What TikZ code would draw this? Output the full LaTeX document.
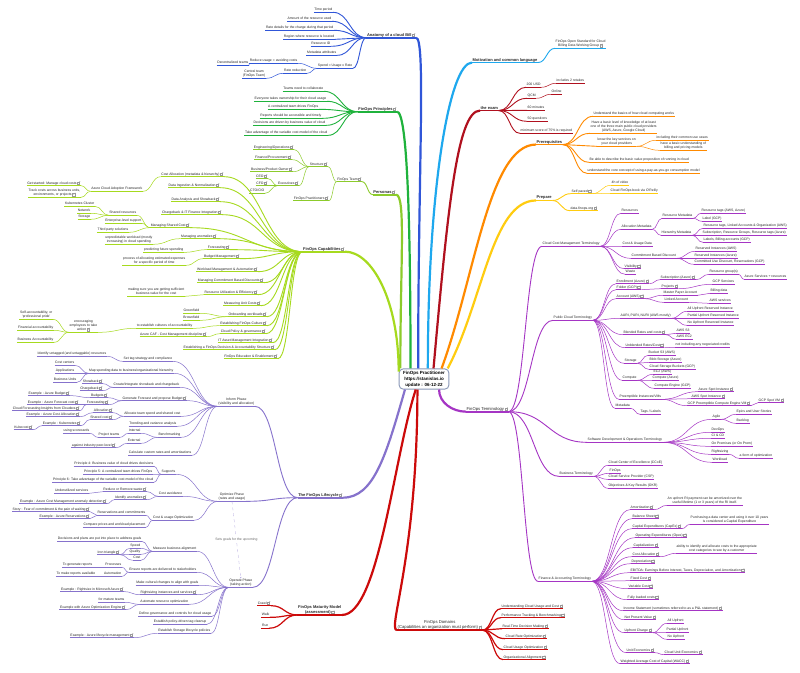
\documentclass[tikz,border=0pt]{standalone}
\usepackage{fontspec}
\setmainfont{Liberation Sans}
\usetikzlibrary{calc,arrows.meta}

\definecolor{anatC}{HTML}{3056D8}
\definecolor{prinC}{HTML}{1FB23C}
\definecolor{persC}{HTML}{8CCB2B}
\definecolor{capaC}{HTML}{A6DA1E}
\definecolor{lifeC}{HTML}{8672CC}
\definecolor{redC}{HTML}{CC0A0A}
\definecolor{examC}{HTML}{B0101E}
\definecolor{motiC}{HTML}{1EA8EE}
\definecolor{prereqC}{HTML}{FF8A00}
\definecolor{prepC}{HTML}{FFCC10}
\definecolor{termC}{HTML}{A535C4}
\definecolor{hubC}{HTML}{8A98B8}
\colorlet{brc}{black}
\def\trx{0}

% small external-link glyph
\newcommand{\lk}{\,\tikz[baseline=0pt,x=1pt,y=1pt]{\draw[line width=0.25pt,draw=gray!80] (0,0) rectangle (2.3,2.3); \draw[line width=0.25pt,draw=gray!80] (1.1,1.2) -- (2.9,3);}}

\begin{document}
\begin{tikzpicture}[
  x=1pt, y=-1pt,
  base/.style={font=\fontsize{3.4}{4}\selectfont, inner sep=0.5pt, align=center, text depth=0.8pt, text=black!85},
  uline/.style={append after command={(\tikzlastnode.south west) edge[draw=brc, line width=#1] (\tikzlastnode.south east)}},
  tl/.style={base, anchor=east, uline=#1},
  tl/.default=0.5pt,
  tr/.style={base, anchor=west, uline=#1},
  tr/.default=0.5pt,
  ttl/.style={font=\fontsize{4}{4.8}\selectfont\bfseries},
  ttlr/.style={font=\fontsize{4.2}{5}\selectfont},
  hub/.style={draw=hubC, line width=0.9pt, rounded corners=4pt, fill=white, align=center,
    font=\fontsize{4.5}{6}\selectfont\bfseries, inner xsep=4pt, inner ysep=2pt},
  mm/.style={to path={let \p1=(\tikztostart), \p2=(\tikztotarget) in
    .. controls ({0.5*(\x1+\x2)},\y1) and ({0.5*(\x1+\x2)},\y2) .. (\tikztotarget)}},
  link/.style={draw=brc, line width=#1, mm},
  link/.default=0.5pt,
  tx/.code={\def\trx{#1}},
  trunkL/.style={draw=brc, line width=2.2pt, to path={let \p1=(\tikztostart), \p2=(\tikztotarget) in
    .. controls ({\x1+\trx*(\x2-\x1)},{\y1+#1*(\y2-\y1)}) and ({\x2+max(10,0.5*abs(\x1-\x2))},\y2) .. (\tikztotarget)}},
  trunkL/.default=0.6,
  trunkR/.style={draw=brc, line width=2.2pt, to path={let \p1=(\tikztostart), \p2=(\tikztotarget) in
    .. controls ({\x1+\trx*(\x2-\x1)},{\y1+#1*(\y2-\y1)}) and ({\x2-max(10,0.5*abs(\x1-\x2))},\y2) .. (\tikztotarget)}},
  trunkR/.default=0.6,
  goal/.style={draw=lifeC!60, line width=0.3pt, dashed, -{Stealth[length=2pt,width=1.6pt]}},
]
\useasboundingbox (0,0) rectangle (800,672);
\fill[white] (0,0) rectangle (800,672);

\node[hub] (ctr) at (424,379) {FinOps Practitioner\\https://stanislas.io\\update : 06-12-22};

% ---------------- anatomy of a cloud bill
\begin{scope}
\colorlet{brc}{anatC}
\node[tl=1.8pt, ttl] (anat) at (416,35) {Anatomy of a cloud Bill\lk};
\node[tl=0.9pt] (anTime) at (333,10) {Time period};
\node[tl=0.9pt] (anAmount) at (332,19) {Amount of the resource used};
\node[tl=0.9pt] (anRate) at (334,28) {Rate details for the charge during that period};
\node[tl=0.9pt] (anRegion) at (335,37) {Region where resource is located};
\node[tl=0.9pt] (anId) at (331,44) {Resource ID};
\node[tl=0.9pt] (anMeta) at (337,53) {Metadata attributes};
\node[tl=0.9pt] (anSpend) at (353,66) {Spend = Usage x Rate};
\node[tl] (anReduce) at (298,61) {Reduce usage = avoiding costs};
\node[tl] (anRateRed) at (307,71) {Rate reduction};
\node[tl] (anDecen) at (249,63) {Decentralized teams};
\node[tl] (anCentral) at (266,74) {Central team\\(FinOps Team)};
\draw[trunkL] (ctr.119) to (anat.south east);
\draw[link=0.9pt] (anat.south west) edge (anTime.south east) edge (anAmount.south east)
  edge (anRate.south east) edge (anRegion.south east) edge (anId.south east)
  edge (anMeta.south east) edge (anSpend.south east);
\draw[link] (anSpend.south west) edge (anReduce.south east) edge (anRateRed.south east);
\draw[link] (anReduce.south west) edge (anDecen.south east);
\draw[link] (anRateRed.south west) edge (anCentral.south east);
\end{scope}

% ---------------- principles
\begin{scope}
\colorlet{brc}{prinC}
\node[tl=1.8pt, ttl] (prin) at (397,109) {FinOps Principles\lk};
\node[tl=0.9pt] (prTeams) at (324,89) {Teams need to collaborate};
\node[tl=0.9pt] (prOwn) at (327,99) {Everyone takes ownership for their cloud usage};
\node[tl=0.9pt] (prCentral) at (319,107) {A centralized team drives FinOps};
\node[tl=0.9pt] (prReports) at (322,116) {Reports should be accessible and timely};
\node[tl=0.9pt] (prDecide) at (326,123) {Decisions are driven by business value of cloud};
\node[tl=0.9pt] (prVar) at (328,133) {Take advantage of the variable cost model of the cloud};
\draw[trunkL] (ctr.142) to (prin.south east);
\draw[link=0.9pt] (prin.south west) edge (prTeams.south east) edge (prOwn.south east)
  edge (prCentral.south east) edge (prReports.south east) edge (prDecide.south east)
  edge (prVar.south east);
\end{scope}

% ---------------- personas
\begin{scope}
\colorlet{brc}{persC}
\node[tl=1.8pt, ttl] (pers) at (396,192) {Personas\lk};
\node[tl=0.9pt] (peTeam) at (362,179) {FinOps Team\lk};
\node[tl] (peStruct) at (328,164) {Structure\lk};
\node[tl] (pePract) at (329,198) {FinOps Practitioners\lk};
\node[tl] (peEng) at (294,147) {Engineering/Operations\lk};
\node[tl] (peFin) at (292,157) {Finance/Procurement\lk};
\node[tl] (peBiz) at (293,169) {Business/Product Owner\lk};
\node[tl] (peExec) at (299,183) {Executives\lk};
\node[tl] (peCeo) at (268,176) {CEO\lk};
\node[tl] (peCfo) at (268,183) {CFO\lk};
\node[tl] (peCto) at (265,191) {CTO/CIO};
\draw[trunkL] (ctr.156) to (pers.south east);
\draw[link=0.9pt] (pers.south west) edge (peTeam.south east);
\draw[link] (peTeam.south west) edge (peStruct.south east) edge (pePract.south east);
\draw[link] (peStruct.south west) edge (peEng.south east) edge (peFin.south east)
  edge (peBiz.south east) edge (peExec.south east);
\draw[link] (peExec.south west) edge (peCeo.south east) edge (peCfo.south east) edge (peCto.south east);
\end{scope}

% ---------------- capabilities
\begin{scope}
\colorlet{brc}{capaC}
\node[tl=1.8pt, ttl] (capa) at (345,249) {FinOps Capabilities\lk};
\node[tl=0.9pt] (caAlloc) at (224,174) {Cost Allocation (metadata \& hierarchy)\lk};
\node[tl=0.9pt] (caIngest) at (220,185) {Data Ingestion \& Normalization\lk};
\node[tl=0.9pt] (caAnalysis) at (220,199) {Data Analysis and Showback\lk};
\node[tl=0.9pt] (caCharge) at (222,212) {Chargeback \& IT Finance Integration\lk};
\node[tl=0.9pt] (caShared) at (190,225) {Managing Shared Cost\lk};
\node[tl=0.9pt] (caAnom) at (217,236) {Managing anomalies\lk};
\node[tl=0.9pt] (caFore) at (230,247) {Forecasting\lk};
\node[tl=0.9pt] (caBudget) at (240,256) {Budget Management\lk};
\node[tl=0.9pt] (caWork) at (258,269) {Workload Management \& Automation\lk};
\node[tl=0.9pt] (caCommit) at (264,280) {Managing Commitment Based Discounts\lk};
\node[tl=0.9pt] (caUtil) at (258,292) {Resource Utilization \& Efficiency\lk};
\node[tl=0.9pt] (caUnit) at (261,303) {Measuring Unit Costs\lk};
\node[tl=0.9pt] (caOnboard) at (267,314) {Onboarding workloads\lk};
\node[tl=0.9pt] (caCulture) at (267,323) {Establishing FinOps Culture\lk};
\node[tl=0.9pt] (caPolicy) at (266,331) {Cloud Policy \& governance\lk};
\node[tl=0.9pt] (caItam) at (273,340) {IT Asset Management Integration\lk};
\node[tl=0.9pt] (caDecision) at (275,347) {Establishing a FinOps Decision \& Accountability Structure\lk};
\node[tl=0.9pt] (caEdu) at (278,356) {FinOps Education \& Enablement\lk};
\node[tl] (caCaf) at (143,189) {Azure Cloud Adoption Framework};
\node[tl] (caGet) at (81,183) {Get started: Manage cloud costs\lk};
\node[tl] (caTrack) at (81,193) {Track costs across business units,\\environments, or projects\lk};
\node[tl] (caSharedRes) at (137,213) {Shared resources};
\node[tl] (caK8s) at (95,204) {Kubernetes Cluster};
\node[tl] (caNet) at (91,211) {Network};
\node[tl] (caSto) at (91,217) {Storage};
\node[tl] (caEnt) at (142,221) {Enterprise-level support};
\node[tl] (caThird) at (129,230) {Third party solutions};
\node[tl] (caUnpred) at (153,240) {unpredictable workload (mostly\\increasing) in cloud spending};
\node[tl] (caPredict) at (184,250) {predicting future spending};
\node[tl] (caProcess) at (186,261) {process of allocating estimated expenses\\for a specific period of time};
\node[tl] (caValue) at (185,292) {making sure you are getting sufficient\\business value for the cost};
\node[tl] (caGreen) at (200,311) {Greenfield};
\node[tl] (caBrown) at (200,318) {Brownfield};
\node[tl] (caAccount) at (193,326) {to establish cultures of accountability};
\node[tl] (caEncour) at (98,326) {encouraging\\employees to take\\action\lk};
\node[tl] (caSelf) at (53,315) {Self-accountability, or\\`professional pride'};
\node[tl] (caFinAcc) at (54,328) {Financial accountability};
\node[tl] (caBizAcc) at (54,340) {Business Accountability};
\node[tl] (caCafCm) at (207,334) {Azure CAF - Cost Management discipline\lk};
\draw[trunkL] (ctr.164) to (capa.south east);
\draw[link=0.9pt] (capa.south west) edge (caAlloc.south east) edge (caIngest.south east)
  edge (caAnalysis.south east) edge (caCharge.south east) edge (caShared.south east)
  edge (caAnom.south east) edge (caFore.south east) edge (caBudget.south east)
  edge (caWork.south east) edge (caCommit.south east) edge (caUtil.south east)
  edge (caUnit.south east) edge (caOnboard.south east) edge (caCulture.south east)
  edge (caPolicy.south east) edge (caItam.south east) edge (caDecision.south east)
  edge (caEdu.south east);
\draw[link] (caAlloc.south west) edge (caCaf.south east);
\draw[link] (caCaf.south west) edge (caGet.south east) edge (caTrack.south east);
\draw[link] (caShared.south west) edge (caSharedRes.south east) edge (caEnt.south east) edge (caThird.south east);
\draw[link] (caSharedRes.south west) edge (caK8s.south east) edge (caNet.south east) edge (caSto.south east);
\draw[link] (caAnom.south west) edge (caUnpred.south east);
\draw[link] (caFore.south west) edge (caPredict.south east);
\draw[link] (caBudget.south west) edge (caProcess.south east);
\draw[link] (caUtil.south west) edge (caValue.south east);
\draw[link] (caOnboard.south west) edge (caGreen.south east) edge (caBrown.south east);
\draw[link] (caCulture.south west) edge (caAccount.south east);
\draw[link] (caAccount.south west) edge (caEncour.south east);
\draw[link] (caEncour.south west) edge (caSelf.south east) edge (caFinAcc.south east) edge (caBizAcc.south east);
\draw[link] (caPolicy.south west) edge (caCafCm.south east);
\end{scope}

% ---------------- lifecycle
\begin{scope}
\colorlet{brc}{lifeC}
\node[tl=1.8pt, ttl] (life) at (343,495) {The FinOps Lifecycle\lk};
\node[tl=0.9pt] (inform) at (255,402) {Inform Phase\\(visibility and allocation)};
\node[tl=0.9pt] (optim) at (246,497) {Optimize Phase\\(rates and usage)};
\node[tl=0.9pt] (operate) at (253,583) {Operate Phase\\(taking action)};
\draw[trunkL, tx=0.3] (ctr.209) to (life.south east);
\draw[link=0.9pt] (life.south west) edge (inform.south east) edge (optim.south east) edge (operate.south east);
\draw[goal] (optim.south) -- (operate.north) node[midway, fill=white, base, text=black!60, inner sep=1pt] {Sets goals for the upcoming};
% inform
\node[tl] (inTag) at (173,359) {Set tag strategy and compliance};
\node[tl] (inUntag) at (107,354) {Identify untagged (and untaggable) resources};
\node[tl] (inMap) at (174,371) {Map spending data to business/organizational hierarchy};
\node[tl] (inCc) at (75,363) {Cost centers};
\node[tl] (inApp) at (75,371) {Applications};
\node[tl] (inBu) at (77,380) {Business Units};
\node[tl] (inShow) at (180,385) {Create/integrate showback and chargeback};
\node[tl] (inShowback) at (103,381) {Showback\lk};
\node[tl] (inChargeback) at (103,388) {Chargeback\lk};
\node[tl] (inFore) at (187,398) {Generate Forecast and propose Budget\lk};
\node[tl] (inBudgets) at (108,395) {Budgets\lk};
\node[tl] (inAzBudget) at (70,393) {Example : Azure Budget\lk};
\node[tl] (inForecast) at (109,402) {Forecasting\lk};
\node[tl] (inAzFore) at (79,402) {Example : Azure Forecast cost\lk};
\node[tl] (inCloudera) at (80,408) {Cloud Forecasting Insights from Cloudera\lk};
\node[tl] (inAlloc) at (181,414) {Allocate team spend and shared cost};
\node[tl] (inAllocation) at (113,410) {Allocation\lk};
\node[tl] (inAzAlloc) at (80,414) {Example : Azure Cost Allocation\lk};
\node[tl] (inSharedCost) at (113,417) {Shared cost\lk};
\node[tl] (inK8s) at (81,423) {Example : Kubernetes\lk};
\node[tl] (inKubecost) at (33,427) {Kubecost\lk};
\node[tl] (inTrend) at (177,424) {Trending and variance analysis};
\node[tl] (inBench) at (181,435) {Benchmarking};
\node[tl] (inInternal) at (141,431) {Internal};
\node[tl] (inProject) at (120,435) {Project teams};
\node[tl] (inScore) at (90,431) {using scorecards};
\node[tl] (inExternal) at (141,441) {External};
\node[tl] (inPeer) at (116,445) {against industry peer-level\lk};
\node[tl] (inRates) at (192,453) {Calculate custom rates and amortizations};
\draw[link] (inform.south west) edge (inTag.south east) edge (inMap.south east)
  edge (inShow.south east) edge (inFore.south east) edge (inAlloc.south east)
  edge (inTrend.south east) edge (inBench.south east) edge (inRates.south east);
\draw[link] (inTag.south west) edge (inUntag.south east);
\draw[link] (inMap.south west) edge (inCc.south east) edge (inApp.south east) edge (inBu.south east);
\draw[link] (inShow.south west) edge (inShowback.south east) edge (inChargeback.south east);
\draw[link] (inFore.south west) edge (inBudgets.south east) edge (inForecast.south east);
\draw[link] (inBudgets.south west) edge (inAzBudget.south east);
\draw[link] (inForecast.south west) edge (inAzFore.south east) edge (inCloudera.south east);
\draw[link] (inAlloc.south west) edge (inAllocation.south east) edge (inSharedCost.south east);
\draw[link] (inAllocation.south west) edge (inAzAlloc.south east);
\draw[link] (inSharedCost.south west) edge (inK8s.south east);
\draw[link] (inK8s.south west) edge (inKubecost.south east);
\draw[link] (inBench.south west) edge (inInternal.south east) edge (inExternal.south east);
\draw[link] (inInternal.south west) edge (inProject.south east);
\draw[link] (inProject.south west) edge (inScore.south east);
\draw[link] (inExternal.south west) edge (inPeer.south east);
% optimize
\node[tl] (opSupports) at (176,472) {Supports};
\node[tl] (opP4) at (154,464) {Principle 4: Business value of cloud drives decisions};
\node[tl] (opP5) at (153,472) {Principle 5: A centralized team drives FinOps};
\node[tl] (opP6) at (154,480) {Principle 6: Take advantage of the variable cost model of the cloud};
\node[tl] (opAvoid) at (183,494) {Cost avoidance};
\node[tl] (opWaste) at (147,489) {Reduce or Remove waste\lk};
\node[tl] (opUnder) at (89,491) {Underutilized services};
\node[tl] (opAnom) at (147,497) {Identify anomalies\lk};
\node[tl] (opAnomEx) at (107,501) {Example : Azure Cost Management anomaly detection\lk};
\node[tl] (opOpt) at (194,518) {Cost \& usage Optimization};
\node[tl] (opRes) at (146,513) {Reservations and commitments};
\node[tl] (opStory) at (90,509) {Story : Fear of commitment \& the pain of waiting\lk};
\node[tl] (opAzRes) at (90,516) {Example : Azure Reservations\lk};
\node[tl] (opCompare) at (146,525) {Compare prices and workload placement};
\draw[link] (optim.south west) edge (opSupports.south east) edge (opAvoid.south east) edge (opOpt.south east);
\draw[link] (opSupports.south west) edge (opP4.south east) edge (opP5.south east) edge (opP6.south east);
\draw[link] (opAvoid.south west) edge (opWaste.south east) edge (opAnom.south east);
\draw[link] (opWaste.south west) edge (opUnder.south east);
\draw[link] (opAnom.south west) edge (opAnomEx.south east);
\draw[link] (opOpt.south west) edge (opRes.south east) edge (opCompare.south east);
\draw[link] (opRes.south west) edge (opStory.south east) edge (opAzRes.south east);
% operate
\node[tl] (opeMeasure) at (197,549) {Measure business alignment};
\node[tl] (opeDecis) at (142,539) {Decisions and plans are put into place to address goals};
\node[tl] (opeSpeed) at (141,546) {Speed};
\node[tl] (opeQuality) at (141,552) {Quality};
\node[tl] (opeCost) at (141,558) {Cost};
\node[tl] (opeIron) at (120,552) {Iron triangle\lk};
\node[tl] (opeReports) at (197,570) {Ensure reports are delivered to stakeholders};
\node[tl] (opeProc) at (122,565) {Processes};
\node[tl] (opeGen) at (93,565) {To generate reports};
\node[tl] (opeAuto) at (122,574) {Automation};
\node[tl] (opeAvail) at (96,574) {To make reports available};
\node[tl] (opeCulture) at (199,583) {Make cultural changes to align with goals};
\node[tl] (opeRight) at (197,592) {Rightsizing instances and services\lk};
\node[tl] (opeRightEx) at (124,589) {Example : Rightsize in Microsoft Azure\lk};
\node[tl] (opeAutoOpt) at (189,602) {Automate resource optimization};
\node[tl] (opeMature) at (125,600) {for mature teams};
\node[tl] (opeEngine) at (126,607) {Example with Azure Optimization Engine\lk};
\node[tl] (opeGov) at (212,614) {Define governance and controls for cloud usage};
\node[tl] (opeTag) at (207,622) {Establish policy-driven tag cleanup};
\node[tl] (opeStorage) at (211,631) {Establish Storage lifecycle policies};
\node[tl] (opeLife) at (134,635) {Example : Azure lifecycle management\lk};
\draw[link] (operate.south west) edge (opeMeasure.south east) edge (opeReports.south east)
  edge (opeCulture.south east) edge (opeRight.south east) edge (opeAutoOpt.south east)
  edge (opeGov.south east) edge (opeTag.south east) edge (opeStorage.south east);
\draw[link] (opeMeasure.south west) edge (opeDecis.south east) edge (opeSpeed.south east)
  edge (opeQuality.south east) edge (opeCost.south east);
\draw[link] (opeIron.south east) edge (opeSpeed.south west) edge (opeQuality.south west) edge (opeCost.south west);
\draw[link] (opeReports.south west) edge (opeProc.south east) edge (opeAuto.south east);
\draw[link] (opeProc.south west) edge (opeGen.south east);
\draw[link] (opeAuto.south west) edge (opeAvail.south east);
\draw[link] (opeRight.south west) edge (opeRightEx.south east);
\draw[link] (opeAutoOpt.south west) edge (opeMature.south east) edge (opeEngine.south east);
\draw[link] (opeStorage.south west) edge (opeLife.south east);
\end{scope}

% ---------------- maturity model
\begin{scope}
\colorlet{brc}{redC}
\node[tl=1.8pt, ttl] (matu) at (342,610) {FinOps Maturity Model\\(assessment)\lk};
\node[tl=1.2pt] (maCrawl) at (271,603) {Crawl\lk};
\node[tl=1.2pt] (maWalk) at (270,615) {Walk};
\node[tl=1.2pt] (maRun) at (269,626) {Run};
\draw[trunkL=0.3, tx=0.3] (ctr.232) to (matu.south east);
\draw[link=1.2pt] (matu.south west) edge (maCrawl.south east) edge (maWalk.south east) edge (maRun.south east);
\end{scope}

% ---------------- motivation
\begin{scope}
\colorlet{brc}{motiC}
\node[tr=1.8pt, ttl] (moti) at (472,60) {Motivation and common language};
\node[tr=0.9pt] (moStd) at (555,44) {FinOps Open Standard for Cloud\\Billing Data Working Group\lk};
\draw[trunkR] (ctr.70) to (moti.south west);
\draw[link=0.9pt] (moti.south east) edge (moStd.south west);
\end{scope}

% ---------------- the exam
\begin{scope}
\colorlet{brc}{examC}
\node[tr=1.8pt, ttl] (exam) at (480,108) {the exam};
\node[tr=0.9pt] (exUsd) at (526,85) {200 USD};
\node[tr] (exRetake) at (556,81) {includes 2 retakes};
\node[tr=0.9pt] (exQcm) at (527,96) {QCM};
\node[tr] (exOnline) at (551,92) {Online};
\node[tr=0.9pt] (exMin) at (527,108) {60 minutes};
\node[tr=0.9pt] (exQ) at (527,119) {50 questions};
\node[tr=0.9pt] (exScore) at (520,131) {minimum score of 75\% is required};
\draw[trunkR, tx=0.3] (ctr.48) to (exam.south west);
\draw[link=0.9pt] (exam.south east) edge (exUsd.south west) edge (exQcm.south west)
  edge (exMin.south west) edge (exQ.south west) edge (exScore.south west);
\draw[link] (exUsd.south east) edge (exRetake.south west);
\draw[link] (exQcm.south east) edge (exOnline.south west);
\end{scope}

% ---------------- prerequisites
\begin{scope}
\colorlet{brc}{prereqC}
\node[tr=1.8pt, ttl] (prereq) at (536,142) {Prerequisites};
\node[tr=0.9pt] (preBasics) at (593,114) {Understand the basics of how cloud computing works};
\node[tr=0.9pt] (preLevel) at (590,127) {Have a basic level of knowledge of at least\\one of the three main public cloud providers\\(AWS, Azure, Google Cloud)};
\node[tr=0.9pt] (preKnow) at (597,142) {know the key services on\\your cloud providers};
\node[tr] (preUse) at (656,138) {including their common use cases};
\node[tr] (preBill) at (660,146) {have a basic understanding of\\billing and pricing models};
\node[tr=0.9pt] (preValue) at (589,160) {Be able to describe the basic value proposition of running in cloud};
\node[tr=0.9pt] (preCore) at (587,171) {understand the core concept of using a pay-as-you-go consumption model};
\draw[trunkR=0.4, tx=0.35] (ctr.31) to (prereq.south west);
\draw[link=0.9pt] (prereq.south east) edge (preBasics.south west) edge (preLevel.south west)
  edge (preKnow.south west) edge (preValue.south west) edge (preCore.south west);
\draw[link] (preKnow.south east) edge (preUse.south west) edge (preBill.south west);
\end{scope}

% ---------------- prepare
\begin{scope}
\colorlet{brc}{prepC}
\node[tr=1.8pt, ttl] (prep) at (536,198) {Prepare};
\node[tr=0.9pt] (prSelf) at (571,191) {Self paced\lk};
\node[tr] (prVideo) at (611,183) {4h of video};
\node[tr] (prBook) at (610,191) {Cloud FinOps book via O'Reilly};
\node[tr=0.9pt] (prData) at (570,208) {data.finops.org\lk};
\draw[trunkR=0.4, tx=0.4] (ctr.24) to (prep.south west);
\draw[link=0.9pt] (prep.south east) edge (prSelf.south west) edge (prData.south west);
\draw[link] (prSelf.south east) edge (prVideo.south west) edge (prBook.south west);
\end{scope}

% ---------------- terminology
\begin{scope}
\colorlet{brc}{termC}
\node[tr=1.8pt, ttlr] (term) at (466,409) {FinOps Terminology\lk};
\node[tr=0.9pt] (teCcm) at (542,244) {Cloud Cost Management Terminology};
\node[tr=0.9pt] (tePub) at (553,318) {Public Cloud Terminology};
\node[tr=0.9pt] (teSoft) at (587,440) {Software Development \& Operations Terminology};
\node[tr=0.9pt] (teBiz) at (559,474) {Business Terminology};
\node[tr=0.9pt] (teFin) at (538,579) {Finance \& Accounting Terminology};
\draw[trunkR] (ctr.325) to (term.south west);
\draw[link=0.9pt] (term.south east) edge (teCcm.south west) edge (tePub.south west)
  edge (teSoft.south west) edge (teBiz.south west) edge (teFin.south west);
% cloud cost management
\node[tr] (ccRes) at (621,211) {Resources};
\node[tr] (ccAlloc) at (621,227) {Allocation Metadata};
\node[tr] (ccResMeta) at (662,216) {Resource Metadata};
\node[tr] (ccTags) at (701,211) {Resource tags (AWS, Azure)};
\node[tr] (ccLabel) at (702,219) {Label (GCP)};
\node[tr] (ccHier) at (661,233) {Hierarchy Metadata};
\node[tr] (ccHAws) at (703,226) {Resource tags, Linked Accounts \& Organization (AWS)};
\node[tr] (ccHAz) at (702,233) {Subscription, Resource Groups, Resource tags (Azure)};
\node[tr] (ccHGcp) at (703,240) {Labels, Billing accounts (GCP)};
\node[tr] (ccUsage) at (622,244) {Cost \& Usage Data};
\node[tr] (ccCommit) at (631,256) {Commitment Based Discount};
\node[tr] (ccRiAws) at (695,249) {Reserved Instances (AWS)};
\node[tr] (ccRiAz) at (694,256) {Reserved Instances (Azure)};
\node[tr] (ccCud) at (694,262) {Committed Use Discount, Reservations (GCP)};
\node[tr] (ccVis) at (624,266) {Visibility\lk};
\node[tr] (ccWaste) at (625,272) {Waste};
\draw[link] (teCcm.south east) edge (ccRes.south west) edge (ccAlloc.south west)
  edge (ccUsage.south west) edge (ccCommit.south west) edge (ccVis.south west) edge (ccWaste.south west);
\draw[link] (ccAlloc.south east) edge (ccResMeta.south west) edge (ccHier.south west);
\draw[link] (ccResMeta.south east) edge (ccTags.south west) edge (ccLabel.south west);
\draw[link] (ccHier.south east) edge (ccHAws.south west) edge (ccHAz.south west) edge (ccHGcp.south west);
\draw[link] (ccCommit.south east) edge (ccRiAws.south west) edge (ccRiAz.south west) edge (ccCud.south west);
% public cloud
\node[tr] (puEnroll) at (616,281) {Enrollment (Azure)\lk};
\node[tr] (puSub) at (660,277) {Subscription (Azure)\lk};
\node[tr] (puRg) at (709,272) {Resource group(s)};
\node[tr] (puAzSvc) at (744,277) {Azure Services + resources};
\node[tr] (puFolder) at (616,287) {Folder (GCP)\lk};
\node[tr] (puProj) at (661,286) {Projects\lk};
\node[tr] (puGcpSvc) at (712,282) {GCP Services};
\node[tr] (puAcc) at (616,296) {Account (AWS)\lk};
\node[tr] (puMaster) at (663,293) {Master Payer Account};
\node[tr] (puBilling) at (710,291) {Billing data};
\node[tr] (puLinked) at (664,300) {Linked Account};
\node[tr] (puAwsSvc) at (709,301) {AWS services};
\node[tr] (puRi) at (620,316) {AURI, PURI, NURI (AWS mostly)};
\node[tr] (puAll) at (687,309) {All Upfront Reserved Instance};
\node[tr] (puPartial) at (687,316) {Partial Upfront Reserved Instance};
\node[tr] (puNo) at (687,323) {No Upfront Reserved Instance};
\node[tr] (puBlended) at (623,332) {Blended Rates and costs\lk};
\node[tr] (puS3) at (676,331) {AWS S3};
\node[tr] (puEc2) at (676,337) {AWS EC2};
\node[tr] (puUnblended) at (625,345) {Unblended Rates/Cost\lk};
\node[tr] (puCredits) at (675,345) {not including any negociated credits};
\node[tr] (puStorage) at (624,361) {Storage};
\node[tr] (puBucket) at (648,353) {Bucket S3 (AWS)};
\node[tr] (puBlob) at (649,360) {Blob Storage (Azure)};
\node[tr] (puGcs) at (649,367) {Cloud Storage Buckets (GCP)};
\node[tr] (puCompute) at (622,378) {Compute};
\node[tr] (puEc2b) at (653,372) {EC2 (AWS)};
\node[tr] (puCompAz) at (652,378) {Compute (Azure)};
\node[tr] (puCompGcp) at (654,386) {Compute Engine (GCP)};
\node[tr] (puPreempt) at (619,397) {Preemptible Instances/VMs};
\node[tr] (puAzSpot) at (698,389) {Azure Spot Instance\lk};
\node[tr] (puAwsSpot) at (691,396) {AWS Spot Instance\lk};
\node[tr] (puGcpPre) at (687,403) {GCP Preemptible Compute Engine VM\lk};
\node[tr] (puGcpSpot) at (758,400) {GCP Spot VM\lk};
\node[tr] (puMeta) at (615,406) {Metadata};
\node[tr] (puTags) at (640,412) {Tags / Labels};
\draw[link] (tePub.south east) edge (puEnroll.south west) edge (puFolder.south west)
  edge (puAcc.south west) edge (puRi.south west) edge (puBlended.south west)
  edge (puUnblended.south west) edge (puStorage.south west) edge (puCompute.south west)
  edge (puPreempt.south west) edge (puMeta.south west);
\draw[link] (puEnroll.south east) edge (puSub.south west);
\draw[link] (puSub.south east) edge (puRg.south west);
\draw[link] (puRg.south east) edge (puAzSvc.south west);
\draw[link] (puFolder.south east) edge (puProj.south west);
\draw[link] (puProj.south east) edge (puGcpSvc.south west);
\draw[link] (puAcc.south east) edge (puMaster.south west) edge (puLinked.south west);
\draw[link] (puMaster.south east) edge (puBilling.south west);
\draw[link] (puLinked.south east) edge (puAwsSvc.south west);
\draw[link] (puRi.south east) edge (puAll.south west) edge (puPartial.south west) edge (puNo.south west);
\draw[link] (puBlended.south east) edge (puS3.south west) edge (puEc2.south west);
\draw[link] (puUnblended.south east) edge (puCredits.south west);
\draw[link] (puStorage.south east) edge (puBucket.south west) edge (puBlob.south west) edge (puGcs.south west);
\draw[link] (puCompute.south east) edge (puEc2b.south west) edge (puCompAz.south west) edge (puCompGcp.south west);
\draw[link] (puPreempt.south east) edge (puAzSpot.south west) edge (puAwsSpot.south west) edge (puGcpPre.south west);
\draw[link] (puGcpPre.south east) edge (puGcpSpot.south west);
\draw[link] (puMeta.south east) edge (puTags.south west);
% software development & operations
\node[tr] (soAgile) at (712,417) {Agile};
\node[tr] (soEpics) at (736,412) {Epics and User Stories};
\node[tr] (soBacklog) at (736,421) {Backlog};
\node[tr] (soDevops) at (711,430) {DevOps};
\node[tr] (soCicd) at (711,436) {CI \& CD};
\node[tr] (soOnprem) at (711,444) {On Premises (or On Prem)};
\node[tr] (soRight) at (711,452) {Rightsizing};
\node[tr] (soForm) at (739,456) {a form of optimization};
\node[tr] (soWork) at (712,460) {Workload};
\draw[link] (teSoft.south east) edge (soAgile.south west) edge (soDevops.south west)
  edge (soCicd.south west) edge (soOnprem.south west) edge (soRight.south west) edge (soWork.south west);
\draw[link] (soAgile.south east) edge (soEpics.south west) edge (soBacklog.south west);
\draw[link] (soRight.south east) edge (soForm.south west);
% business
\node[tr] (biCcoe) at (608,463) {Cloud Center of Excellence (CCoE)};
\node[tr] (biFinops) at (609,471) {FinOps};
\node[tr] (biCsp) at (608,477) {Cloud Service Provider (CSP)};
\node[tr] (biOkr) at (608,486) {Objectives \& Key Results (OKR)};
\draw[link] (teBiz.south east) edge (biCcoe.south west) edge (biFinops.south west)
  edge (biCsp.south west) edge (biOkr.south west);
% finance & accounting
\node[tr] (fiAmort) at (630,507) {Amortization\lk};
\node[tr] (fiAmortNote) at (667,501) {An upfront RI payment can be amortized over the\\useful lifetime (1 or 3 years) of the RI itself.};
\node[tr] (fiBal) at (632,516) {Balance Sheet\lk};
\node[tr] (fiCapex) at (632,526) {Capital Expenditures (CapEx)\lk};
\node[tr] (fiCapexNote) at (690,520) {Purchasing a data center and using it over 10 years\\is considered a Capital Expenditure};
\node[tr] (fiOpex) at (635,535) {Operating Expenditures (Opex)\lk};
\node[tr] (fiCapit) at (633,545) {Capitalization\lk};
\node[tr] (fiAlloc) at (632,554) {Cost Allocation\lk};
\node[tr] (fiAllocNote) at (676,549) {ability to identify and allocate costs to the appropriate\\cost categories to see by a customer};
\node[tr] (fiDep) at (631,561) {Depreciation\lk};
\node[tr] (fiEbitda) at (630,570) {EBITDA: Earnings Before Interest, Taxes, Depreciation, and Amortization\lk};
\node[tr] (fiFixed) at (630,578) {Fixed Cost\lk};
\node[tr] (fiVar) at (628,586) {Variable Cost\lk};
\node[tr] (fiFully) at (627,597) {Fully loaded costs\lk};
\node[tr] (fiIncome) at (623,608) {Income Statement (sometimes referred to as a P\&L statement)\lk};
\node[tr] (fiNpv) at (624,617) {Net Present Value\lk};
\node[tr] (fiUpfront) at (624,630) {Upfront Charge\lk};
\node[tr] (fiAllUp) at (667,621) {All Upfront};
\node[tr] (fiPartUp) at (666,630) {Partial Upfront};
\node[tr] (fiNoUp) at (667,637) {No Upfront};
\node[tr] (fiUnit) at (626,650) {Unit Economics\lk};
\node[tr] (fiCue) at (664,652) {Cloud Unit Economics\lk};
\node[tr] (fiWacc) at (620,661) {Weighted Average Cost of Capital (WACC)\lk};
\draw[link] (teFin.south east) edge (fiAmort.south west) edge (fiBal.south west)
  edge (fiCapex.south west) edge (fiOpex.south west) edge (fiCapit.south west)
  edge (fiAlloc.south west) edge (fiDep.south west) edge (fiEbitda.south west)
  edge (fiFixed.south west) edge (fiVar.south west) edge (fiFully.south west)
  edge (fiIncome.south west) edge (fiNpv.south west) edge (fiUpfront.south west)
  edge (fiUnit.south west) edge (fiWacc.south west);
\draw[link] (fiAmort.south east) edge (fiAmortNote.south west);
\draw[link] (fiCapex.south east) edge (fiCapexNote.south west);
\draw[link] (fiAlloc.south east) edge (fiAllocNote.south west);
\draw[link] (fiUpfront.south east) edge (fiAllUp.south west) edge (fiPartUp.south west) edge (fiNoUp.south west);
\draw[link] (fiUnit.south east) edge (fiCue.south west);
\end{scope}

% ---------------- domains
\begin{scope}
\colorlet{brc}{redC}
\node[tr=1.8pt, ttlr] (doms) at (397,625) {FinOps Domains\\(Capabilities an organization must perform)\lk};
\node[tr=1.2pt] (doUnd) at (501,606) {Understanding Cloud Usage and Cost\lk};
\node[tr=1.2pt] (doPerf) at (501,615) {Performance Tracking \& Benchmarking\lk};
\node[tr=1.2pt] (doReal) at (502,626) {Real-Time Decision Making\lk};
\node[tr=1.2pt] (doRate) at (505,636) {Cloud Rate Optimization\lk};
\node[tr=1.2pt] (doUsage) at (503,647) {Cloud Usage Optimization\lk};
\node[tr=1.2pt] (doOrg) at (503,657) {Organizational Alignment\lk};
\draw[trunkR=0.7] (ctr.238) to (doms.south west);
\draw[link=1.2pt] (doms.south east) edge (doUnd.south west) edge (doPerf.south west)
  edge (doReal.south west) edge (doRate.south west) edge (doUsage.south west) edge (doOrg.south west);
\end{scope}

\end{tikzpicture}
\end{document}
